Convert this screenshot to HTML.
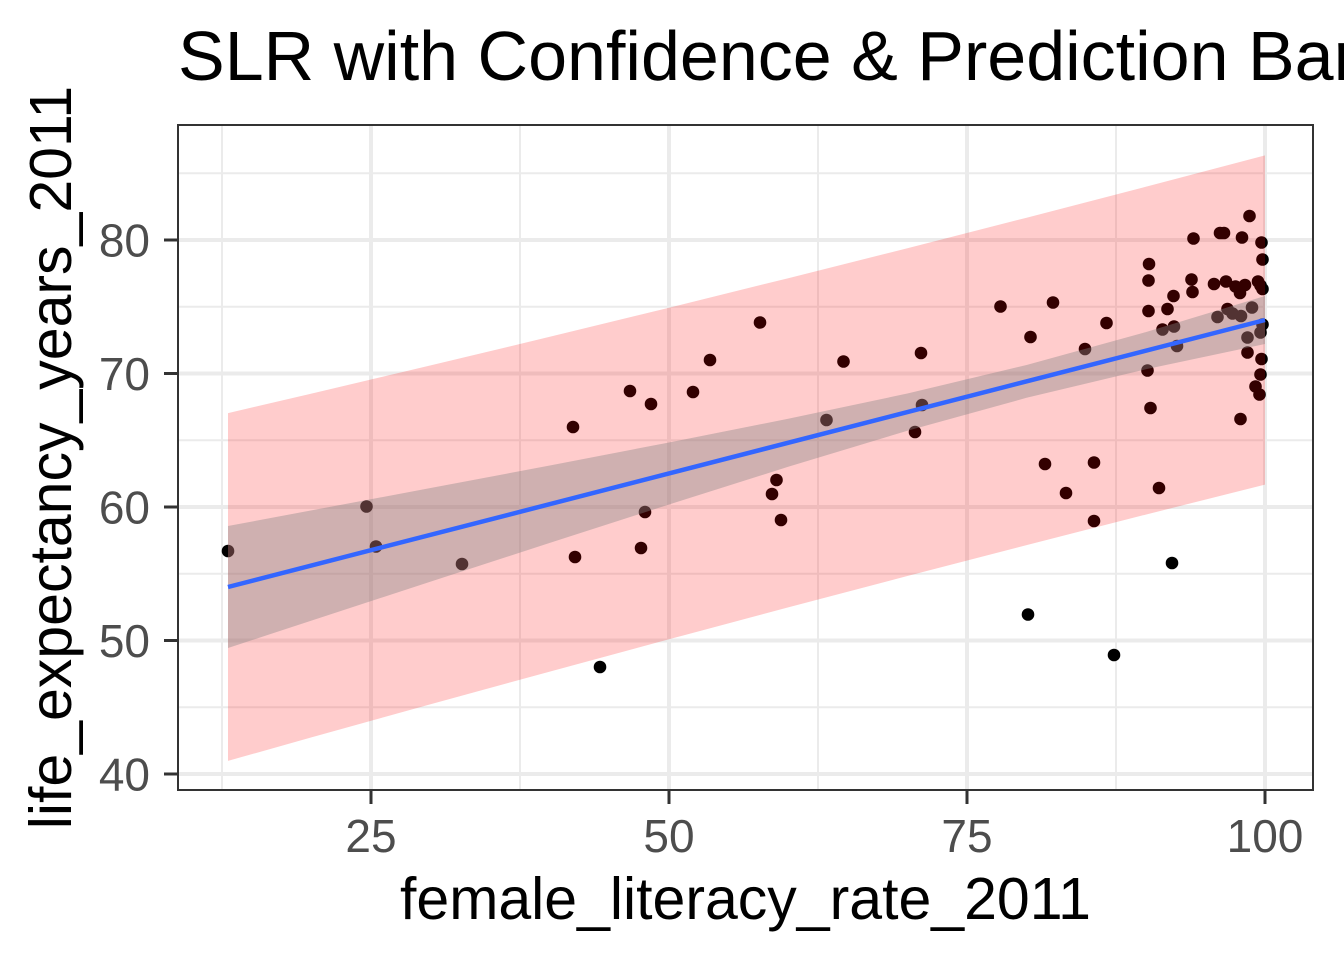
<!DOCTYPE html>
<html>
<head>
<meta charset="utf-8">
<style>
html, body { margin: 0; padding: 0; background: #ffffff; }
svg { display: block; }
</style>
</head>
<body>
<svg width="1344" height="960" viewBox="0 0 1344 960" xmlns="http://www.w3.org/2000/svg" font-family="'Liberation Sans', Arial, sans-serif">
<rect x="0" y="0" width="1344" height="960" fill="#ffffff"/>
<text x="178" y="80" font-size="70" fill="#000000">SLR with Confidence &amp; Prediction Bar</text>
<path d="M222 125V790M520 125V790M818 125V790M1116 125V790M178 173.3H1313M178 306.8H1313M178 440.3H1313M178 573.8H1313M178 707.3H1313" stroke="#EBEBEB" stroke-width="2" fill="none"/>
<path d="M371 125V790M669 125V790M967 125V790M1265 125V790M178 240H1313M178 373.5H1313M178 507H1313M178 640.5H1313M178 774H1313" stroke="#EBEBEB" stroke-width="4" fill="none"/>
<path fill="none" stroke="#000000" stroke-width="12.6" stroke-linecap="round" d="M228 551h0M366.5 506.5h0M376 546.5h0M462 564h0M573 427h0M575 557h0M600 667h0M630 391h0M641 548h0M645 512h0M651 404h0M693 392h0M710 360h0M760 322.5h0M772 494h0M776.5 480h0M781 520h0M826.5 420h0M843.5 361.5h0M915 432h0M921 353h0M922 405h0M1000.5 306.5h0M1028 614.5h0M1030.5 337h0M1045 464h0M1053 302.5h0M1066 493h0M1085 349h0M1094 462.5h0M1094 521h0M1106.5 323h0M1114 655h0M1149 264h0M1148.5 280.5h0M1148.5 311h0M1147.5 370.5h0M1150.5 408h0M1159 488h0M1172 563h0M1167.5 309h0M1173.5 296h0M1162.5 329.5h0M1174 326.5h0M1177 346h0M1193.5 238.5h0M1191.5 279.5h0M1192.5 292h0M1220 233h0M1224 233h0M1242 237.5h0M1249.5 216h0M1261.5 242.5h0M1262.5 259.5h0M1214 284h0M1226 281.5h0M1235.5 286.5h0M1240 293h0M1245 285h0M1258 281.5h0M1260.5 285.5h0M1262.5 289h0M1217.5 317h0M1227.5 309h0M1232.5 313.5h0M1241 316h0M1252 307.5h0M1262.5 324.5h0M1260.5 332.5h0M1247.5 337.5h0M1247.5 352.5h0M1261.5 359h0M1260.5 374.5h0M1255.5 386.5h0M1259.5 394.5h0M1240.5 419h0"/>
<polygon fill="rgba(255,0,0,0.2)" points="228,413.1 311.4,393.6 430.6,365.4 549.8,336.8 669,307.7 788.2,278.2 907.4,248.2 1026.6,217.7 1145.8,186.8 1265,155.4 1265,484.6 1145.8,514.6 1026.6,545.1 907.4,576 788.2,607.4 669,639.3 549.8,671.6 430.6,704.2 311.4,737.4 228,760.9"/>
<polygon fill="rgba(132,132,132,0.39)" points="228,526 311.4,510.4 430.6,488 549.8,465.5 669,442.5 788.2,418.8 907.4,393.5 1026.6,365 1145.8,332.1 1265,296 1265,344 1145.8,369.3 1026.6,397.8 907.4,430.7 788.2,466.8 669,504.5 549.8,542.9 430.6,581.6 311.4,620.6 228,648"/>
<line x1="228" y1="587" x2="1265" y2="320" stroke="#3366FF" stroke-width="4.5"/>
<rect x="178" y="125" width="1135" height="665" fill="none" stroke="#333333" stroke-width="2"/>
<path d="M164 240H178M164 373.5H178M164 507H178M164 640.5H178M164 774H178M371 790V804M669 790V804M967 790V804M1265 790V804" stroke="#333333" stroke-width="3" fill="none"/>
<g font-size="46" fill="#4D4D4D" text-anchor="end">
<text x="150" y="256.5">80</text>
<text x="150" y="390">70</text>
<text x="150" y="523.5">60</text>
<text x="150" y="657">50</text>
<text x="150" y="790.5">40</text>
</g>
<g font-size="46" fill="#4D4D4D" text-anchor="middle">
<text x="371" y="852">25</text>
<text x="669" y="852">50</text>
<text x="967" y="852">75</text>
<text x="1265" y="852">100</text>
</g>
<text x="745.5" y="919" font-size="59" fill="#000000" text-anchor="middle">female_literacy_rate_2011</text>
<text transform="translate(71,457.5) rotate(-90)" font-size="59" fill="#000000" text-anchor="middle">life_expectancy_years_2011</text>
</svg>
</body>
</html>
